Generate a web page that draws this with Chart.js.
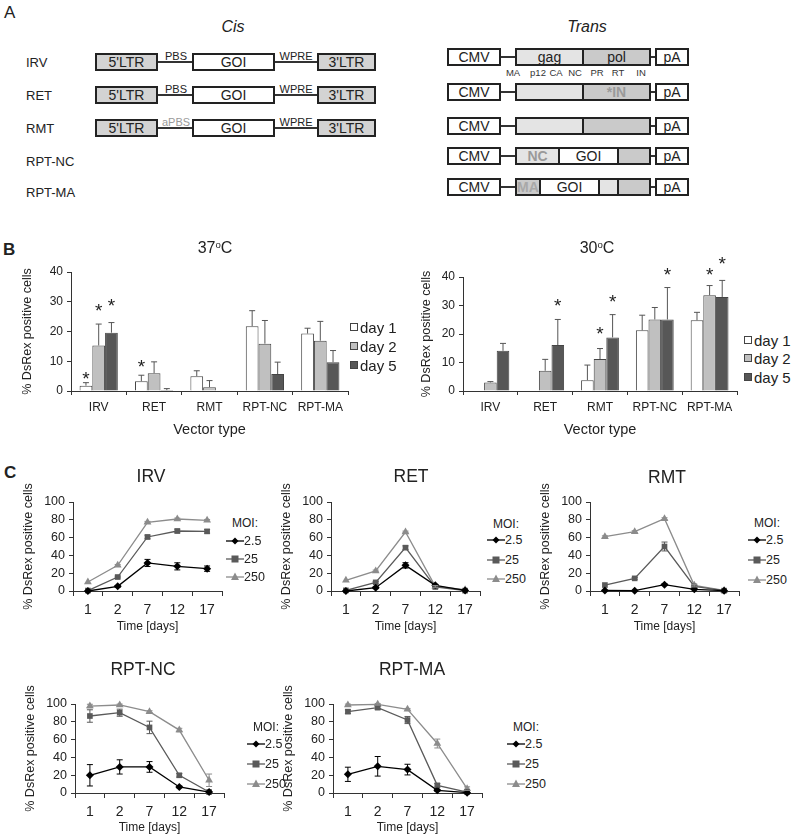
<!DOCTYPE html>
<html>
<head>
<meta charset="utf-8">
<script src="https://cdn.jsdelivr.net/npm/chart.js@4.4.1/dist/chart.umd.min.js"></script>
<style>
  body { margin: 0; background: #fff; font-family: "Liberation Sans", Arial, sans-serif; color: #222; }
  #fig { position: relative; width: 793px; height: 838px; overflow: hidden; }
  canvas { position: absolute; }
  .t { position: absolute; white-space: nowrap; transform: translate(-50%, -50%); line-height: 1; }
  .tl { position: absolute; white-space: nowrap; transform: translate(0, -50%); line-height: 1; }
  .box { position: absolute; box-sizing: border-box; border: 2px solid #222; text-align: center; font-size: 14px; }
  .ln { position: absolute; height: 1.5px; background: #333; }
  sup { font-size: 0.6em; vertical-align: 0.5em; }
</style>
</head>
<body>
<div id="fig">
  <canvas id="bar37"></canvas>
  <canvas id="bar30"></canvas>
  <canvas id="lineIRV"></canvas>
  <canvas id="lineRET"></canvas>
  <canvas id="lineRMT"></canvas>
  <canvas id="lineNC"></canvas>
  <canvas id="lineMA"></canvas>
</div>
<script>
// ---- panel B data (% DsRex positive cells) ----
const vectorTypes = ["IRV", "RET", "RMT", "RPT-NC", "RPT-MA"];
const dayLabels = ["day 1", "day 2", "day 5"];
const barTicks = [0, 10, 20, 30, 40];

const c37Day1 = [1.8, 3.3, 5.0, 21.8, 19.3];
const c37Day2 = [15.3, 6.0, 1.3, 15.9, 16.9];
const c37Day5 = [19.6, 0.3, 0, 5.7, 9.7];
const c37Err1 = [1.0, 2.0, 1.8, 5.2, 1.8];
const c37Err2 = [7.2, 3.8, 2.2, 7.8, 6.5];
const c37Err5 = [3.4, 0.5, 0, 4.0, 3.9];
const c37Star1 = [5.1, 9.3, null, null, null];
const c37Star2 = [28.0, null, null, null, null];
const c37Star5 = [29.6, null, null, null, null];

const c30Day1 = [0, 0, 3.8, 21.3, 24.8];
const c30Day2 = [3.0, 7.1, 11.2, 25.1, 33.6];
const c30Day5 = [14.1, 16.1, 18.8, 25.1, 33.0];
const c30Err1 = [0, 0, 5.3, 5.3, 2.8];
const c30Err2 = [0.3, 4.0, 3.7, 4.2, 3.4];
const c30Err5 = [2.6, 9.0, 8.0, 11.2, 5.8];
const c30Star1 = [null, null, null, null, null];
const c30Star2 = [null, null, 21.3, null, 41.7];
const c30Star5 = [null, 30.9, 32.4, 41.7, 45.6];

// ---- panel C data ----
const timeDays = ["1", "2", "7", "12", "17"];
const moiLabels = ["2.5", "25", "250"];
const lineTicks = [0, 20, 40, 60, 80, 100];

const irvMoi2 = [0, 5.2, 31.5, 27.7, 25.1];
const irvMoi25 = [0.5, 15.7, 60.7, 67.4, 67.0];
const irvMoi250 = [10.1, 28.8, 77.2, 80.9, 79.4];
const irvErr2 = [0, 1, 4, 4, 3];
const irvErr25 = [0, 1, 2, 2, 2];
const irvErr250 = [0, 1, 1, 1, 1];

const retMoi2 = [0, 3.7, 28.8, 6.4, 0.7];
const retMoi25 = [0.7, 9.7, 48.7, 4.5, 0.4];
const retMoi250 = [12.0, 22.5, 66.3, 5.2, 1.5];
const retErr2 = [0, 1, 3, 1, 0];
const retErr25 = [0, 1, 2, 1, 0];
const retErr250 = [0, 1, 1, 1, 0];

const rmtMoi2 = [0.7, 0.4, 7.1, 1.9, 0.4];
const rmtMoi25 = [6.7, 14.2, 50.0, 5.2, 0.4];
const rmtMoi250 = [61.0, 66.7, 81.3, 6.4, 0.7];
const rmtErr2 = [0, 0, 1, 0, 0];
const rmtErr25 = [0, 1, 5, 1, 0];
const rmtErr250 = [1, 1, 1, 1, 0];

const ncMoi2 = [19.9, 29.3, 29.3, 6.8, 1.1];
const ncMoi25 = [86.5, 90.2, 73.7, 19.9, 1.1];
const ncMoi250 = [97.7, 98.9, 91.4, 70.7, 14.3];
const ncErr2 = [12, 8, 6, 1, 0];
const ncErr25 = [7, 4, 7, 2, 0];
const ncErr250 = [2, 1, 1, 2, 7];

const maMoi2 = [21.0, 30.0, 26.3, 3.0, 0.4];
const maMoi25 = [91.4, 95.9, 82.0, 8.6, 1.1];
const maMoi250 = [98.9, 99.6, 94.0, 55.6, 4.9];
const maErr2 = [8, 11, 6, 1, 0];
const maErr25 = [2, 2, 4, 2, 0];
const maErr250 = [1, 1, 1, 5, 2];

const fig = document.getElementById("fig");
const FONT = "'Liberation Sans', Arial, sans-serif";

function addText(html, x, y, size, cls, extra) {
  const d = document.createElement("div");
  d.className = cls || "t";
  d.innerHTML = html;
  d.style.left = x + "px";
  d.style.top = y + "px";
  d.style.fontSize = size + "px";
  if (extra) d.style.cssText += extra;
  fig.appendChild(d);
}

function addBox(x0, x1, yc, fill, txt, txtColor) {
  const d = document.createElement("div");
  d.className = "box";
  d.style.left = x0 + "px";
  d.style.top = (yc - 9) + "px";
  d.style.width = (x1 - x0) + "px";
  d.style.height = "18px";
  d.style.lineHeight = "14px";
  d.style.background = fill;
  if (txt) d.textContent = txt;
  if (txtColor) d.style.color = txtColor;
  fig.appendChild(d);
}

function addLine(x0, x1, y) {
  const d = document.createElement("div");
  d.className = "ln";
  d.style.left = x0 + "px";
  d.style.top = (y - 0.75) + "px";
  d.style.width = (x1 - x0) + "px";
  fig.appendChild(d);
}

// ---- panel A schematic ----
addText("A", 4, 12, 17, "tl");
addText("Cis", 233, 27, 16, "t", "font-style:italic");
addText("Trans", 587, 27, 16, "t", "font-style:italic");
["IRV", "RET", "RMT", "RPT-NC", "RPT-MA"].forEach((n, i) => {
  addText(n, 26, [62, 95, 128, 161, 192][i], 13, "tl");
});

const LTR = "#d3d3d3", GAG = "#e4e4e4", POL = "#cacaca";
const pbsNames = ["PBS", "PBS", "aPBS"];
[62, 95, 128].forEach((yc, i) => {
  addLine(158, 192, yc);
  addLine(275, 317, yc);
  addBox(95, 158, yc, LTR, "5'LTR");
  addBox(192, 275, yc, "#fff", "GOI");
  addBox(317, 376, yc, LTR, "3'LTR");
  addText(pbsNames[i], 176, yc - 6, 11, "t", i === 2 ? "color:#9a9a9a" : "");
  addText("WPRE", 296, yc - 6, 11);
});

const transRows = [
  [[515, 584, GAG, "gag"], [582, 651, POL, "pol"]],
  [[515, 584, GAG], [582, 651, POL, "*IN", "#9a9a9a;font-weight:bold"]],
  [[515, 584, GAG], [582, 651, POL]],
  [[515, 560, GAG, "NC", "#9a9a9a;font-weight:bold"], [558, 619, "#fff", "GOI"], [617, 651, POL]],
  [[515, 541, POL, "MA", "#a8a8a8;font-weight:bold"], [539, 600, "#fff", "GOI"], [598, 619, GAG], [617, 651, POL]]
];
[57, 92, 126, 156, 187].forEach((yc, i) => {
  addLine(501, 515, yc);
  addLine(651, 655, yc);
  addBox(447, 501, yc, "#fff", "CMV");
  transRows[i].forEach(s => {
    addBox(s[0], s[1], yc, s[2], s[3]);
    if (s[4]) fig.lastChild.style.cssText += "color:" + s[4];
  });
  addBox(655, 689, yc, "#fff", "pA");
});
[["MA", 513], ["p12", 538], ["CA", 556], ["NC", 575], ["PR", 597], ["RT", 618], ["IN", 641]]
  .forEach(p => addText(p[0], p[1], 73, 9.5, "t", "color:#333"));

// ---- panel B / C headings and legends ----
addText("B", 3, 249, 17, "tl", "font-weight:bold");
addText("37<sup>o</sup>C", 215, 248, 16);
addText("30<sup>o</sup>C", 597, 248, 16);
addText("C", 4, 472, 17, "tl", "font-weight:bold");

const dayFills = ["#ffffff", "#c0c0c0", "#575757"];
function barLegend(x, ys) {
  dayLabels.forEach((lab, i) => {
    addText("", x, ys[i], 1, "tl",
      "width:8px;height:8px;box-sizing:border-box;border:1px solid #444;background:" + dayFills[i]);
    addText(lab, x + 10, ys[i], 15, "tl");
  });
}
barLegend(350, [327, 346, 365]);
barLegend(744, [340, 358, 377]);

const moiColors = ["#000000", "#5a5a5a", "#8c8c8c"];
const moiShapes = ["rectRot", "rect", "triangle"];
function sym(i) {
  const c = moiColors[i];
  const m = [
    `<polygon points="9,1.5 12.5,5 9,8.5 5.5,5" fill="${c}"/>`,
    `<rect x="5.5" y="1.5" width="7" height="7" fill="${c}"/>`,
    `<polygon points="9,0.5 13,8 5,8" fill="${c}"/>`
  ][i];
  return `<svg width="18" height="10" style="display:block"><line x1="0" y1="5" x2="18" y2="5" stroke="${c}" stroke-width="1.3"/>${m}</svg>`;
}
function lineLegend(x, yMoi, ys) {
  addText("MOI:", x + 19, yMoi, 12);
  moiLabels.forEach((lab, i) => {
    addText(sym(i), x, ys[i], 10, "tl");
    addText(lab, x + 18, ys[i], 12.5, "tl");
  });
}

// ---- plugins ----
const errorBars = {
  id: "errorBars",
  afterDatasetsDraw(chart) {
    const ctx = chart.ctx, y = chart.scales.y;
    chart.data.datasets.forEach((ds, i) => {
      if (!ds.err) return;
      const meta = chart.getDatasetMeta(i);
      meta.data.forEach((el, j) => {
        const e = ds.err[j], v = ds.data[j];
        if (!e) return;
        const top = y.getPixelForValue(v + e);
        const bot = ds.bothWays ? y.getPixelForValue(Math.max(v - e, 0)) : y.getPixelForValue(v);
        ctx.save();
        ctx.strokeStyle = ds.errColor;
        ctx.lineWidth = 1;
        ctx.beginPath();
        ctx.moveTo(el.x, bot);
        ctx.lineTo(el.x, top);
        ctx.moveTo(el.x - 3, top);
        ctx.lineTo(el.x + 3, top);
        if (ds.bothWays) {
          ctx.moveTo(el.x - 3, bot);
          ctx.lineTo(el.x + 3, bot);
        }
        ctx.stroke();
        ctx.restore();
      });
    });
  }
};

const stars = {
  id: "stars",
  afterDatasetsDraw(chart) {
    const ctx = chart.ctx, y = chart.scales.y;
    chart.data.datasets.forEach((ds, i) => {
      if (!ds.stars) return;
      const meta = chart.getDatasetMeta(i);
      meta.data.forEach((el, j) => {
        const s = ds.stars[j];
        if (s == null) return;
        ctx.save();
        ctx.fillStyle = "#222";
        ctx.font = "19px " + FONT;
        ctx.textAlign = "center";
        ctx.textBaseline = "middle";
        ctx.fillText("*", el.x, y.getPixelForValue(s) + 4);
        ctx.restore();
      });
    });
  }
};

// canvas placed so that the plot area lands at plot = [left, top, right, bottom]
function place(id, plot, pad) {
  const c = document.getElementById(id);
  const l = Math.round(plot[0] - pad[0]), t = Math.round(plot[1] - pad[1]);
  const w = Math.round(plot[2] - plot[0] + pad[0] + pad[2]);
  const h = Math.round(plot[3] - plot[1] + pad[1] + pad[3]);
  c.style.left = l + "px";
  c.style.top = t + "px";
  c.width = w; c.height = h;
  c.style.width = w + "px"; c.style.height = h + "px";
  return c;
}

function barChart(id, plot, pad, titlePad, vals, errs, starVals) {
  const c = place(id, plot, pad);
  return new Chart(c, {
    type: "bar",
    data: {
      labels: vectorTypes,
      datasets: dayLabels.map((lab, i) => ({
        label: lab,
        data: vals[i],
        err: errs[i],
        stars: starVals[i],
        errColor: "#555",
        backgroundColor: dayFills[i],
        borderColor: "#444",
        borderWidth: 1,
        barPercentage: 1,
        categoryPercentage: 0.69
      }))
    },
    options: {
      responsive: false,
      animation: false,
      layout: { padding: { left: 0, top: pad[1], right: pad[2], bottom: 0 } },
      plugins: { legend: { display: false }, tooltip: { enabled: false } },
      scales: {
        x: {
          grid: { drawOnChartArea: false, tickLength: 4, color: "#333" },
          border: { color: "#333" },
          ticks: { font: { size: 12, family: FONT }, color: "#222", padding: 5, maxRotation: 0 },
          title: { display: true, text: "Vector type", font: { size: 14.5, family: FONT }, color: "#222", padding: 0 },
          afterFit: s => { s.height = pad[3]; }
        },
        y: {
          min: 0, max: 40,
          afterBuildTicks: s => { s.ticks = barTicks.map(v => ({ value: v })); },
          grid: { drawOnChartArea: false, tickLength: 4, color: "#333" },
          border: { color: "#333" },
          ticks: { font: { size: 12, family: FONT }, color: "#222", padding: 4, autoSkip: false },
          title: { display: true, text: "% DsRex positive cells", font: { size: 12.5, family: FONT }, color: "#222", padding: { top: titlePad, bottom: 0 } },
          afterFit: s => { s.width = pad[0]; }
        }
      }
    },
    plugins: [errorBars, stars]
  });
}

barChart("bar37", [71, 272, 348, 391], [51, 40, 4, 48], 0.5,
  [c37Day1, c37Day2, c37Day5], [c37Err1, c37Err2, c37Err5], [c37Star1, c37Star2, c37Star5]);
barChart("bar30", [463, 277, 737, 391], [46, 40, 4, 48], 2.5,
  [c30Day1, c30Day2, c30Day5], [c30Err1, c30Err2, c30Err5], [c30Star1, c30Star2, c30Star5]);

function lineChart(id, plot, axisH, series, errs) {
  const c = place(id, plot, [53, 28, 6, axisH]);
  return new Chart(c, {
    type: "line",
    data: {
      labels: timeDays,
      datasets: moiLabels.map((lab, i) => ({
        label: lab,
        data: series[i],
        err: errs[i],
        bothWays: true,
        errColor: moiColors[i],
        borderColor: moiColors[i],
        backgroundColor: moiColors[i],
        borderWidth: 1.3,
        pointStyle: moiShapes[i],
        pointRadius: i === 2 ? 4.5 : 4,
        pointBorderWidth: 0,
        clip: false
      }))
    },
    options: {
      responsive: false,
      animation: false,
      layout: { padding: { left: 0, top: 28, right: 6, bottom: 0 } },
      plugins: { legend: { display: false }, tooltip: { enabled: false } },
      scales: {
        x: {
          offset: true,
          grid: { offset: true, drawOnChartArea: false, tickLength: 5, color: "#333" },
          border: { color: "#333" },
          ticks: { font: { size: 14, family: FONT }, color: "#222", padding: 6, maxRotation: 0, autoSkip: false },
          title: { display: true, text: "Time [days]", font: { size: 12, family: FONT }, color: "#222", padding: 0 },
          afterFit: s => { s.height = axisH; }
        },
        y: {
          min: 0, max: 100,
          afterBuildTicks: s => { s.ticks = lineTicks.map(v => ({ value: v })); },
          grid: { drawOnChartArea: false, tickLength: 4, color: "#333" },
          border: { color: "#333" },
          ticks: { font: { size: 12.5, family: FONT }, color: "#222", padding: 4, autoSkip: false },
          title: { display: true, text: "% DsRex positive cells", font: { size: 12.5, family: FONT }, color: "#222", padding: { top: 1, bottom: 0 } },
          afterFit: s => { s.width = 53; }
        }
      }
    },
    plugins: [errorBars]
  });
}

lineChart("lineIRV", [73, 502, 222, 591], 43, [irvMoi2, irvMoi25, irvMoi250], [irvErr2, irvErr25, irvErr250]);
lineChart("lineRET", [331, 502, 480, 591], 43, [retMoi2, retMoi25, retMoi250], [retErr2, retErr25, retErr250]);
lineChart("lineRMT", [590, 502, 739, 591], 43, [rmtMoi2, rmtMoi25, rmtMoi250], [rmtErr2, rmtErr25, rmtErr250]);
lineChart("lineNC", [75, 704, 224, 793], 42, [ncMoi2, ncMoi25, ncMoi250], [ncErr2, ncErr25, ncErr250]);
lineChart("lineMA", [333, 704, 482, 793], 42, [maMoi2, maMoi25, maMoi250], [maErr2, maErr25, maErr250]);

addText("IRV", 151, 477, 17.5);
addText("RET", 411, 477, 17.5);
addText("RMT", 667, 478, 17.5);
addText("RPT-NC", 143, 670, 17.5);
addText("RPT-MA", 412, 670, 17.5);

lineLegend(226, 523, [541, 559, 577]);
lineLegend(487, 524, [540, 560, 579]);
lineLegend(748, 523, [540, 560, 580]);
lineLegend(247, 727, [744, 764, 784]);
lineLegend(507, 727, [744, 764, 784]);
</script>
</body>
</html>
